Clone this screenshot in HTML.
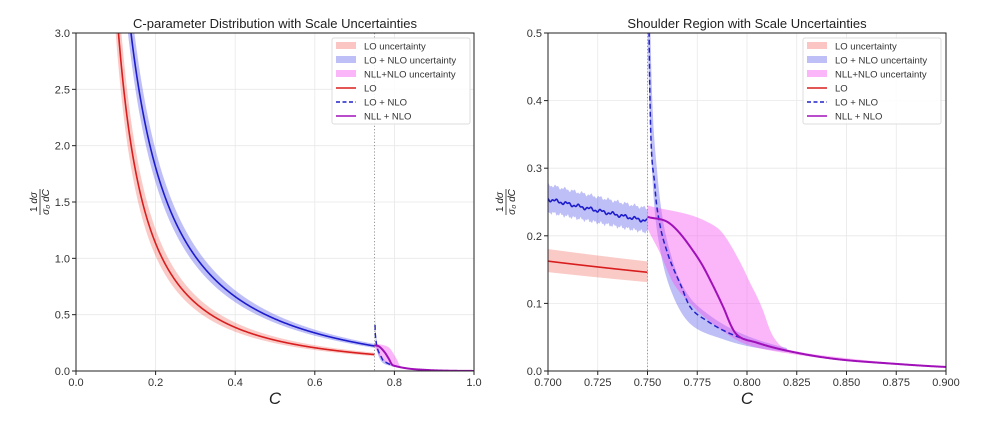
<!DOCTYPE html>
<html><head><meta charset="utf-8"><style>
html,body{margin:0;padding:0;background:#fff;}
svg{display:block;font-family:"Liberation Sans","DejaVu Sans",sans-serif;}
</style></head><body>
<svg id="s" width="1000" height="425" viewBox="0 0 1000 425" xmlns="http://www.w3.org/2000/svg"></svg>
<script>
const S=document.getElementById('s');
let H='';
function mono(xs,ys){
  const n=xs.length,d=[],m=new Array(n);
  for(let i=0;i<n-1;i++)d.push((ys[i+1]-ys[i])/(xs[i+1]-xs[i]));
  m[0]=d[0];m[n-1]=d[n-2];
  for(let i=1;i<n-1;i++){m[i]=(d[i-1]*d[i]<=0)?0:(d[i-1]+d[i])/2;}
  for(let i=0;i<n-1;i++){if(d[i]==0){m[i]=0;m[i+1]=0;continue;}const a=m[i]/d[i],b=m[i+1]/d[i],s=a*a+b*b;if(s>9){const t=3/Math.sqrt(s);m[i]=t*a*d[i];m[i+1]=t*b*d[i];}}
  return x=>{if(x<=xs[0])return ys[0];if(x>=xs[n-1])return ys[n-1];let i=0;while(x>xs[i+1])i++;
    const h=xs[i+1]-xs[i],t=(x-xs[i])/h,t2=t*t,t3=t2*t;
    return (2*t3-3*t2+1)*ys[i]+(t3-2*t2+t)*h*m[i]+(-2*t3+3*t2)*ys[i+1]+(t3-t2)*h*m[i+1];};
}
function fL(pts){const f=mono(pts.map(p=>p[0]),pts.map(p=>Math.log(Math.max(p[1],1e-5))));return c=>Math.exp(f(c));}
const lo=c=>0.0935*Math.pow(c,-1.55);
const nlb=c=>0.2385*Math.pow(c,-1.3)-0.125;
const ds=fL([[0.7502,0.9],[0.7508,0.5],[0.7538,0.27],[0.756,0.22],[0.76,0.175],[0.767,0.125],[0.7714,0.095],[0.78,0.074],[0.795,0.051],[0.8,0.046]]);
const bu=fL([[0.7502,0.9],[0.7515,0.5],[0.755,0.29],[0.763,0.16],[0.771,0.11],[0.78,0.085],[0.8,0.052],[0.82,0.034]]);
const bl=fL([[0.7502,0.5],[0.7505,0.45],[0.753,0.26],[0.7563,0.18],[0.763,0.11],[0.7714,0.07],[0.788,0.047],[0.8,0.037],[0.82,0.028]]);
const pu=fL([[0.75,0.228],[0.7613,0.218],[0.7714,0.184],[0.7797,0.145],[0.788,0.095],[0.7948,0.054],[0.8049,0.042],[0.825,0.027],[0.8467,0.017],[0.875,0.0105],[0.9,0.006],[0.95,0.002],[1.0,0.0005]]);
const pku=fL([[0.75,0.245],[0.7797,0.221],[0.788,0.203],[0.796,0.164],[0.8,0.14],[0.808,0.09],[0.813,0.052],[0.818,0.035],[0.825,0.029],[0.85,0.019],[0.9,0.007],[0.95,0.002],[1,0.0008]]);
const pkl=fL([[0.75,0.211],[0.757,0.17],[0.763,0.13],[0.7714,0.1],[0.785,0.065],[0.8,0.039],[0.825,0.024],[0.85,0.015],[0.9,0.005],[0.95,0.001],[1,0.0002]]);
function wig(c){return 0.0018*Math.sin(c*1100)+0.0012*Math.sin(c*2900+1);}
function plot(o){
  const {x0,x1,cmin,cmax,vmax,id}=o;const y0=33,y1=371;
  const X=c=>x0+(c-cmin)/(cmax-cmin)*(x1-x0), Y=v=>y1-v/vmax*(y1-y0);
  H+=`<clipPath id="${id}"><rect x="${x0}" y="${y0}" width="${x1-x0}" height="${y1-y0}"/></clipPath>`;
  o.xt.forEach(t=>{H+=`<line x1="${X(t)}" y1="${y0}" x2="${X(t)}" y2="${y1}" stroke="#e8e8e8" stroke-width="0.8"/>`;});
  o.yt.forEach(t=>{H+=`<line x1="${x0}" y1="${Y(t)}" x2="${x1}" y2="${Y(t)}" stroke="#e8e8e8" stroke-width="0.8"/>`;});
  H+=`<g clip-path="url(#${id})">`;
  const band=(f,g,a,b,n,col)=>{let up=[],lw=[];for(let i=0;i<=n;i++){const c=a+(b-a)*i/n;up.push(X(c).toFixed(2)+','+Y(Math.min(f(c),vmax*1.5)).toFixed(2));lw.push(X(c).toFixed(2)+','+Y(Math.min(g(c),vmax*1.5)).toFixed(2));}
    H+=`<polygon points="${up.join(' ')} ${lw.reverse().join(' ')}" fill="${col}" stroke="none"/>`;};
  const line=(f,a,b,n,col,w,dash)=>{let p=[];for(let i=0;i<=n;i++){const c=a+(b-a)*i/n;p.push(X(c).toFixed(2)+','+Y(Math.min(f(c),vmax*1.5)).toFixed(2));}
    H+=`<polyline points="${p.join(' ')}" fill="none" stroke="${col}" stroke-width="${w}" ${dash?'stroke-dasharray="'+dash+'"':''} stroke-linejoin="round"/>`;};
  const a=Math.max(cmin,0.095),N=800;
  const nl=c=>nlb(c)+(o.w?wig(c):0);
  band(c=>lo(c)*1.11,c=>lo(c)*0.9,a,0.75,N,'rgba(240,90,80,0.32)');
  band(c=>nlb(c)*1.085+(o.w?wig(c*1.3):0),c=>nlb(c)*0.925+(o.w?wig(c*1.7):0),Math.max(cmin,0.12),0.75,N,'rgba(60,60,230,0.33)');
  const ds0=o.w?0.7502:0.7512;
  band(bu,bl,ds0,0.82,400,'rgba(60,60,230,0.33)');
  band(pku,pkl,0.75,cmax,400,'rgba(245,80,240,0.42)');
  line(lo,a,0.75,N,'#d81e1e',1.6);
  line(nl,Math.max(cmin,0.12),0.75,N,'#1c1ccc',1.6);
  line(ds,ds0,0.8,400,'#2222cc',1.5,'5,3');
  line(pu,0.75,cmax,400,'#a010b8',2);
  H+=`</g>`;
  H+=`<line x1="${X(0.75)}" y1="${y0}" x2="${X(0.75)}" y2="${y1}" stroke="#999" stroke-width="1" stroke-dasharray="1.2,2"/>`;
  H+=`<rect x="${x0}" y="${y0}" width="${x1-x0}" height="${y1-y0}" fill="none" stroke="#222" stroke-width="1"/>`;
  o.xt.forEach((t,i)=>{H+=`<line x1="${X(t)}" y1="${y1}" x2="${X(t)}" y2="${y1+4}" stroke="#222"/><text x="${X(t)}" y="${y1+15}" font-size="11" text-anchor="middle" fill="#333">${o.xl[i]}</text>`;});
  o.yt.forEach((t,i)=>{H+=`<line x1="${x0-4}" y1="${Y(t)}" x2="${x0}" y2="${Y(t)}" stroke="#222"/><text x="${x0-6}" y="${Y(t)+4}" font-size="11" text-anchor="end" fill="#333">${o.yl[i]}</text>`;});
  H+=`<text x="${(x0+x1)/2}" y="28" font-size="13" text-anchor="middle" fill="#222">${o.title}</text>`;
  H+=`<text x="${(x0+x1)/2}" y="404" font-size="17" font-style="italic" text-anchor="middle" fill="#222">C</text>`;
  const ly=o.ylx;
  H+=`<g transform="translate(${ly},202) rotate(-90)"><text x="0" y="-3" font-size="10" font-style="italic" text-anchor="middle" fill="#222"><tspan font-style="normal">1</tspan> dσ</text><line x1="-13" y1="0" x2="13" y2="0" stroke="#222" stroke-width="0.8"/><text x="0" y="9" font-size="10" font-style="italic" text-anchor="middle" fill="#222">σ₀ dC</text></g>`;
  const lx=o.lx;
  H+=`<rect x="${lx}" y="38" width="138" height="86" rx="2" fill="#fff" fill-opacity="0.85" stroke="#ddd"/>`;
  const items=[['LO uncertainty','p','rgba(240,90,80,0.35)'],['LO + NLO uncertainty','p','rgba(60,60,230,0.33)'],['NLL+NLO uncertainty','p','rgba(245,80,240,0.42)'],['LO','l','#d81e1e'],['LO + NLO','d','#2222cc'],['NLL + NLO','l','#a010b8']];
  items.forEach((it,i)=>{const yy=46+i*14;
    if(it[1]=='p')H+=`<rect x="${lx+4}" y="${yy-4}" width="20" height="7" fill="${it[2]}"/>`;
    else H+=`<line x1="${lx+4}" y1="${yy}" x2="${lx+24}" y2="${yy}" stroke="${it[2]}" stroke-width="1.6" ${it[1]=='d'?'stroke-dasharray="4,2.5"':''}/>`;
    H+=`<text x="${lx+32}" y="${yy+3.5}" font-size="9.5" fill="#333">${it[0]}</text>`;});
}
plot({id:'c1',x0:76,x1:474,cmin:0,cmax:1,vmax:3,xt:[0,0.2,0.4,0.6,0.8,1],xl:['0.0','0.2','0.4','0.6','0.8','1.0'],yt:[0,0.5,1,1.5,2,2.5,3],yl:['0.0','0.5','1.0','1.5','2.0','2.5','3.0'],title:'C-parameter Distribution with Scale Uncertainties',lx:332,ylx:40,w:false});
plot({id:'c2',x0:548,x1:946,cmin:0.7,cmax:0.9,vmax:0.5,xt:[0.7,0.725,0.75,0.775,0.8,0.825,0.85,0.875,0.9],xl:['0.700','0.725','0.750','0.775','0.800','0.825','0.850','0.875','0.900'],yt:[0,0.1,0.2,0.3,0.4,0.5],yl:['0.0','0.1','0.2','0.3','0.4','0.5'],title:'Shoulder Region with Scale Uncertainties',lx:803,ylx:506,w:true});
S.innerHTML=H;
</script>
</body></html>
